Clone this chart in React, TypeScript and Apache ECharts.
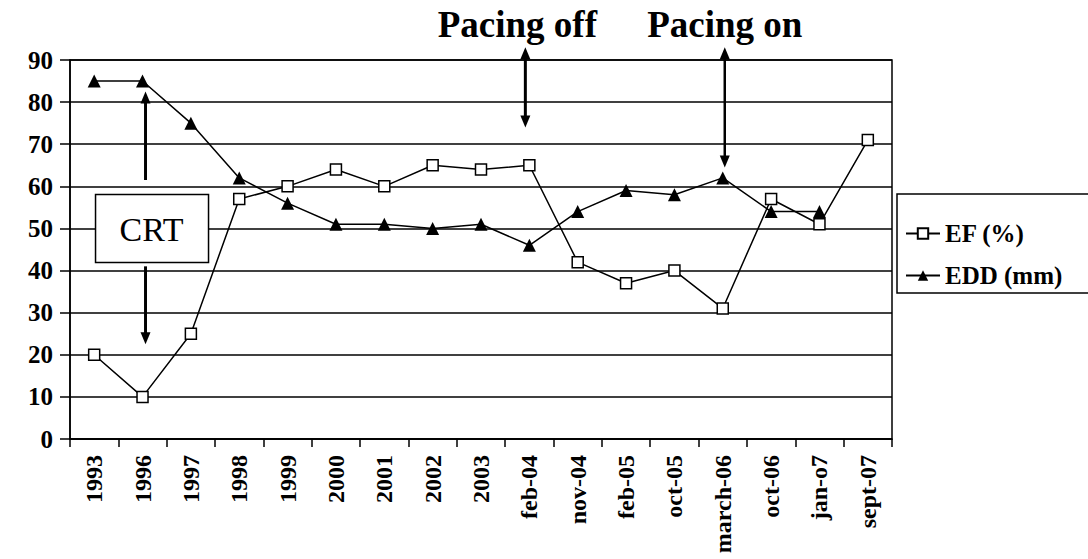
import React, { useEffect, useRef } from "react";
import * as echarts from "echarts";

const categories = [
  "1993", "1996", "1997", "1998", "1999", "2000", "2001", "2002", "2003",
  "feb-04", "nov-04", "feb-05", "oct-05", "march-06", "oct-06", "jan-o7", "sept-07",
];
const efValues = [20, 10, 25, 57, 60, 64, 60, 65, 64, 65, 42, 37, 40, 31, 57, 51, 71];
const eddValues: (number | null)[] = [85, 85, 75, 62, 56, 51, 51, 50, 51, 46, 54, 59, 58, 62, 54, 54, null];
const yMin = 0;
const yMax = 90;
const yInterval = 10;

const FONT = "'Liberation Serif', 'Times New Roman', serif";

export default function App() {
  const ref = useRef<HTMLDivElement>(null);
  useEffect(() => {
    const chart = echarts.init(ref.current!, null, { renderer: "svg" });
    chart.setOption({
      animation: false,
      backgroundColor: "#fff",
      grid: {
        left: 70, right: 196, top: 60, bottom: 120,
        show: true, borderColor: "#000", borderWidth: 1.5, backgroundColor: "transparent",
      },
      legend: {
        orient: "vertical",
        left: 900,
        top: 216,
        itemGap: 17,
        itemWidth: 34,
        itemHeight: 13,
        textStyle: { fontFamily: FONT, fontWeight: "bold", fontSize: 25, color: "#000" },
        data: ["EF (%)", "EDD (mm)"],
      },
      xAxis: {
        type: "category",
        data: categories,
        boundaryGap: true,
        axisLine: { lineStyle: { color: "#000", width: 1.5 } },
        axisTick: { show: true, length: 8, lineStyle: { color: "#000", width: 1.5 } },
        axisLabel: {
          rotate: 90, interval: 0, margin: 16,
          fontFamily: FONT, fontWeight: "bold", fontSize: 24, color: "#000",
        },
      },
      yAxis: {
        type: "value",
        min: yMin, max: yMax, interval: yInterval,
        axisLine: { show: true, lineStyle: { color: "#000", width: 1.5 } },
        axisTick: { show: true, length: 10, lineStyle: { color: "#000", width: 1.5 } },
        splitLine: { show: true, lineStyle: { color: "#000", width: 1.5 } },
        axisLabel: { margin: 17, fontFamily: FONT, fontWeight: "bold", fontSize: 25, color: "#000" },
      },
      series: [
        {
          name: "EF (%)",
          type: "line",
          data: efValues,
          symbol: "rect",
          symbolSize: 11,
          z: 3,
          itemStyle: { color: "#fff", borderColor: "#000", borderWidth: 1.5 },
          lineStyle: { color: "#000", width: 1.5 },
        },
        {
          name: "EDD (mm)",
          type: "line",
          data: eddValues,
          symbol: "triangle",
          symbolSize: 13,
          z: 4,
          itemStyle: { color: "#000" },
          lineStyle: { color: "#000", width: 1.5 },
        },
      ],
    });

    const px = (idx: number, v: number) =>
      chart.convertToPixel({ gridIndex: 0 }, [idx, v]) as number[];

    const arrow = (x: number, yTop: number, yBot: number, headTop: boolean, headBot: boolean, w = 2.5) => {
      const hl = 12, hw = 5;
      const els: any[] = [];
      els.push({
        type: "line",
        shape: { x1: x, y1: headTop ? yTop + hl - 1 : yTop, x2: x, y2: headBot ? yBot - hl + 1 : yBot },
        style: { stroke: "#000", lineWidth: w },
        z: 100,
      });
      if (headTop) els.push({
        type: "polygon",
        shape: { points: [[x, yTop], [x - hw, yTop + hl], [x + hw, yTop + hl]] },
        style: { fill: "#000" }, z: 100,
      });
      if (headBot) els.push({
        type: "polygon",
        shape: { points: [[x, yBot], [x - hw, yBot - hl], [x + hw, yBot - hl]] },
        style: { fill: "#000" }, z: 100,
      });
      return els;
    };

    const offIdx = categories.indexOf("feb-04");
    const onIdx = categories.indexOf("march-06");
    const crtIdx = categories.indexOf("1996");

    const offTop = px(offIdx, 93);
    const offBot = px(offIdx, 74);
    const onTop = px(onIdx, 93);
    const onBot = px(onIdx, 64.5);
    const crtUpTop = px(crtIdx, 82.5);
    const crtUpBot = px(crtIdx, 61.5);
    const crtDnTop = px(crtIdx, 41);
    const crtDnBot = px(crtIdx, 22.5);
    const crtCenter = px(crtIdx, 50);
    const crtX = crtUpTop[0] + 3;

    const graphics: any[] = [
      ...arrow(offTop[0] - 4, offTop[1], offBot[1], true, true, 3),
      ...arrow(onTop[0] + 2, onTop[1], onBot[1], true, true, 2.5),
      ...arrow(crtX, crtUpTop[1], crtUpBot[1], true, false, 3),
      ...arrow(crtX, crtDnTop[1], crtDnBot[1], false, true, 3),
      {
        type: "text",
        x: offTop[0] - 12, y: 6,
        style: { text: "Pacing off", fontFamily: FONT, fontWeight: "bold", fontSize: 37, fill: "#000", align: "center", verticalAlign: "top" },
        z: 100,
      },
      {
        type: "text",
        x: onTop[0] + 2, y: 6,
        style: { text: "Pacing on", fontFamily: FONT, fontWeight: "bold", fontSize: 37, fill: "#000", align: "center", verticalAlign: "top" },
        z: 100,
      },
      {
        type: "rect",
        shape: { x: crtCenter[0] + 9 - 56, y: crtCenter[1] - 34, width: 113, height: 68 },
        style: { fill: "#fff", stroke: "#000", lineWidth: 1.5 },
        z: 100,
      },
      {
        type: "text",
        x: crtCenter[0] + 9, y: crtCenter[1] + 1,
        style: { text: "CRT", fontFamily: FONT, fontSize: 34, fill: "#000", align: "center", verticalAlign: "middle" },
        z: 101,
      },
      {
        type: "rect",
        shape: { x: 897, y: 194, width: 200, height: 99 },
        style: { fill: "none", stroke: "#000", lineWidth: 1.5 },
        z: 100,
      },
    ];
    chart.setOption({ graphic: graphics });
    return () => chart.dispose();
  }, []);
  return <div ref={ref} style={{ position: "fixed", left: 0, top: 0, width: 1088, height: 559 }} />;
}
